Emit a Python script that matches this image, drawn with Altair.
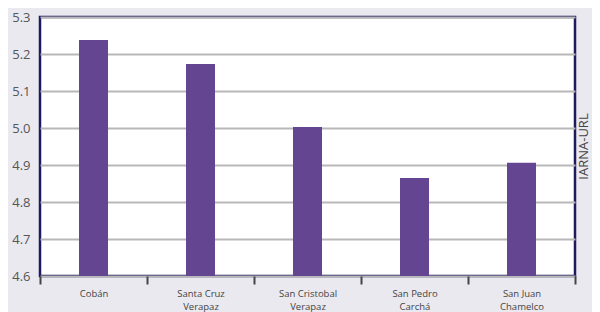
import altair as alt
import pandas as pd

municipios = ["Cobán", "Santa Cruz|Verapaz", "San Cristobal|Verapaz", "San Pedro|Carchá", "San Juan|Chamelco"]
valores = [5.238, 5.173, 5.003, 4.865, 4.906]
y_ticks = [4.6, 4.7, 4.8, 4.9, 5.0, 5.1, 5.2, 5.3]

df = pd.DataFrame({"municipio": municipios, "valor": valores})

chart = alt.Chart(df).mark_bar(size=29, color="#634592", clip=True).encode(
    x=alt.X("municipio:N", sort=municipios,
            scale=alt.Scale(paddingInner=0, paddingOuter=0),
            axis=alt.Axis(title=None, labelAngle=0, tickBand="extent",
                          labelExpr="split(datum.label, '|')",
                          labelFont="Open Sans", labelFontSize=9.5, labelColor="#444",
                          labelPadding=4, labelLineHeight=13,
                          tickColor="#444", tickWidth=2, tickSize=8,
                          domain=False, grid=False)),
    y=alt.Y("valor:Q",
            scale=alt.Scale(domain=[4.6, 5.3], nice=False, zero=False),
            axis=alt.Axis(title=None, values=y_ticks, format=".1f",
                          labelFont="Open Sans", labelFontSize=13, labelColor="#555",
                          labelPadding=10, ticks=False, domain=False,
                          grid=True, gridColor="#b8b8b8", gridWidth=2)),
).properties(
    width=535, height=259,
    title=alt.Title("IARNA-URL", orient="right", angle=270,
                    font="Open Sans", fontSize=13, fontWeight="normal",
                    color="#444", offset=-11),
    background="#eae9ef",
    padding={"left": 32, "top": 9, "right": 17, "bottom": 36},
    autosize=alt.AutoSizeParams(type="none"),
).configure_view(
    fill="white", stroke="#1f1a5e", strokeWidth=2.5
)

chart.save("out.html", embed_options={"renderer": "svg", "actions": False})
